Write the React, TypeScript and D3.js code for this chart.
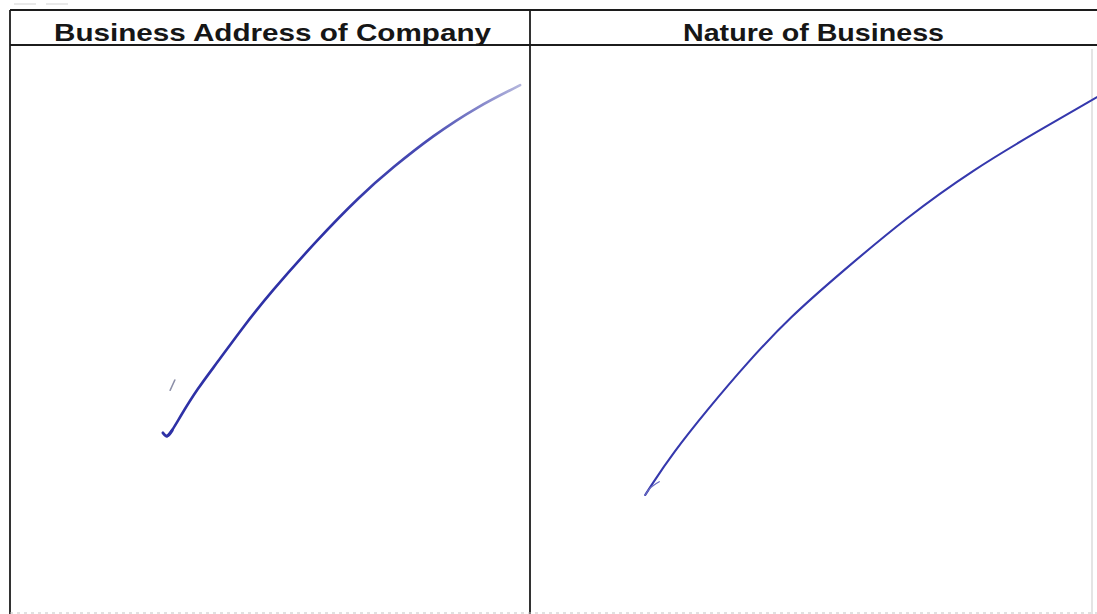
import React, { useRef, useEffect } from 'react';
import * as d3 from 'd3';

// Column headers of the scanned form
const headers = ['Business Address of Company', 'Nature of Business'];

// Pen strokes, in percent of each column body (x: left→right, y: bottom→top)
const addressStrokeX = [30.2, 31.2, 32.7, 36.0, 39.8, 44.8, 50.0, 59.0, 67.3, 73.7, 81.3, 89.8, 98.1];
const addressStrokeY = [31.3, 32.3, 34.7, 39.6, 44.2, 50.5, 56.5, 65.8, 73.6, 78.7, 84.2, 89.3, 93.1];

const addressHookX = [29.4, 30.2, 31.2];
const addressHookY = [31.9, 31.3, 32.3];

const addressTickX = [30.8, 31.7];
const addressTickY = [39.4, 41.2];

const natureStrokeX = [20.5, 21.4, 25.4, 31.5, 38.6, 46.3, 55.2, 67.1, 78.8, 90.7, 100.9];
const natureStrokeY = [20.95, 22.4, 28.3, 35.9, 44.2, 52.3, 60.0, 69.9, 78.2, 85.2, 91.0];

const natureHookX = [20.5, 21.4, 23.0];
const natureHookY = [20.95, 22.2, 23.3];

const zip = (xs: number[], ys: number[]) => xs.map((x, i) => [x, ys[i]] as [number, number]);

export default function App() {
  const svgRef = useRef<SVGSVGElement>(null);

  useEffect(() => {
    const width = 1097;
    const height = 614;
    const svg = d3.select(svgRef.current);
    svg.selectAll('*').remove();
    svg.attr('width', width).attr('height', height);

    const left = 10;
    const divider = 530;
    const right = 1092;
    const top = 10;
    const headerBottom = 45;
    const bottom = 613;
    const ink = '#1c1c1c';
    const pen = '#2e31a6';

    svg.append('rect').attr('width', width).attr('height', height).attr('fill', '#ffffff');

    // faint scan marks above the table
    svg.append('line')
      .attr('x1', 14).attr('x2', 78).attr('y1', 4).attr('y2', 4)
      .attr('stroke', '#d4d4d4').attr('stroke-width', 1.2).attr('stroke-dasharray', '22 10');

    // table frame
    const frame = svg.append('g').attr('stroke', ink).attr('fill', 'none');
    frame.append('line').attr('x1', left).attr('x2', width).attr('y1', top).attr('y2', top).attr('stroke-width', 1.8);
    frame.append('line').attr('x1', left).attr('x2', width).attr('y1', headerBottom).attr('y2', headerBottom).attr('stroke-width', 1.8);
    frame.append('line').attr('x1', left).attr('x2', left).attr('y1', top).attr('y2', height).attr('stroke-width', 1.8);
    frame.append('line').attr('x1', divider).attr('x2', divider).attr('y1', top).attr('y2', height).attr('stroke-width', 1.8);
    frame.append('line').attr('x1', right).attr('x2', right).attr('y1', headerBottom + 4).attr('y2', height)
      .attr('stroke', '#c9c9c9').attr('stroke-width', 1);
    svg.append('line').attr('x1', left).attr('x2', width).attr('y1', bottom).attr('y2', bottom)
      .attr('stroke', '#c4c4c4').attr('stroke-width', 1.2).attr('stroke-dasharray', '3 4');

    // headers
    const columns = [[left, divider], [divider, right]];
    const textWidths = [437, 261];
    headers.forEach((h, i) => {
      const cx = (columns[i][0] + columns[i][1]) / 2 + 2.5;
      svg.append('text')
        .attr('x', cx)
        .attr('y', 41)
        .attr('text-anchor', 'middle')
        .attr('font-family', '"Liberation Sans", Arial, sans-serif')
        .attr('font-weight', 'bold')
        .attr('font-size', 24.5)
        .attr('fill', '#161616')
        .attr('textLength', textWidths[i])
        .attr('lengthAdjust', 'spacingAndGlyphs')
        .text(h);
    });

    const yScale = d3.scaleLinear().domain([0, 100]).range([height, headerBottom + 1]);
    const xLeft = d3.scaleLinear().domain([0, 100]).range([left, divider]);
    const xRight = d3.scaleLinear().domain([0, 100]).range([divider, right]);

    const smoothLeft = d3.line<[number, number]>()
      .x(d => xLeft(d[0])).y(d => yScale(d[1])).curve(d3.curveBasis);
    const sharpLeft = d3.line<[number, number]>()
      .x(d => xLeft(d[0])).y(d => yScale(d[1])).curve(d3.curveCatmullRom.alpha(0.5));
    const smoothRight = d3.line<[number, number]>()
      .x(d => xRight(d[0])).y(d => yScale(d[1])).curve(d3.curveBasis);
    const sharpRight = d3.line<[number, number]>()
      .x(d => xRight(d[0])).y(d => yScale(d[1])).curve(d3.curveCatmullRom.alpha(0.5));

    // fading ink at the top end of the first stroke
    const defs = svg.append('defs');
    const grad = defs.append('linearGradient')
      .attr('id', 'ink-fade')
      .attr('gradientUnits', 'userSpaceOnUse')
      .attr('x1', xLeft(60)).attr('y1', 0)
      .attr('x2', xLeft(98)).attr('y2', 0);
    grad.append('stop').attr('offset', '0%').attr('stop-color', pen);
    grad.append('stop').attr('offset', '55%').attr('stop-color', '#4a4db4');
    grad.append('stop').attr('offset', '100%').attr('stop-color', '#b3b5dc');

    svg.append('path')
      .attr('d', smoothLeft(zip(addressStrokeX, addressStrokeY)))
      .attr('fill', 'none')
      .attr('stroke', 'url(#ink-fade)')
      .attr('stroke-width', 2.6)
      .attr('stroke-linecap', 'round')
      .attr('stroke-linejoin', 'round');

    svg.append('path')
      .attr('d', sharpLeft(zip(addressHookX, addressHookY)))
      .attr('fill', 'none')
      .attr('stroke', pen)
      .attr('stroke-width', 2.8)
      .attr('stroke-linecap', 'round')
      .attr('stroke-linejoin', 'round');

    svg.append('path')
      .attr('d', sharpLeft(zip(addressTickX, addressTickY)))
      .attr('fill', 'none')
      .attr('stroke', '#8c8fa8')
      .attr('stroke-width', 1.6)
      .attr('stroke-linecap', 'round');

    svg.append('path')
      .attr('d', smoothRight(zip(natureStrokeX, natureStrokeY)))
      .attr('fill', 'none')
      .attr('stroke', '#3538ad')
      .attr('stroke-width', 2.1)
      .attr('stroke-linecap', 'round')
      .attr('stroke-linejoin', 'round');

    svg.append('path')
      .attr('d', sharpRight(zip(natureHookX, natureHookY)))
      .attr('fill', 'none')
      .attr('stroke', '#6a6cc0')
      .attr('stroke-width', 1.2)
      .attr('stroke-linecap', 'round');
  }, []);

  return (
    <div style={{ position: 'absolute', left: 0, top: 0 }}>
      <svg ref={svgRef} style={{ display: 'block' }} />
    </div>
  );
}
